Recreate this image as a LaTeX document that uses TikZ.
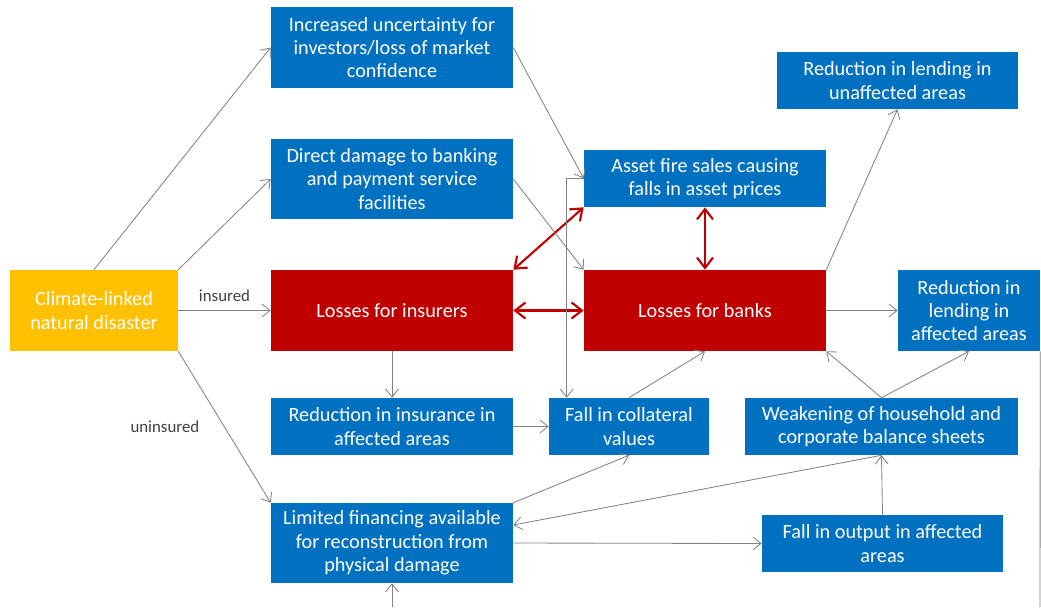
\documentclass[tikz,border=0pt]{standalone}
\usepackage{fontspec}
\setmainfont{Carlito}
\usepackage{tikz}
\usetikzlibrary{arrows.meta, positioning, calc}
\definecolor{boxblue}{RGB}{0,112,192}
\definecolor{boxred}{RGB}{192,0,0}
\definecolor{boxgold}{RGB}{255,192,0}
\definecolor{linegrey}{RGB}{130,130,130}
\definecolor{labelgrey}{RGB}{64,64,64}
\tikzset{
  box/.style={rectangle, text=white, align=center, inner sep=0pt,
    font=\fontsize{14.4}{16.6}\selectfont},
  bluebox/.style={box, fill=boxblue},
  redbox/.style={box, fill=boxred},
  goldbox/.style={box, fill=boxgold},
  arrow/.style={-{Straight Barb[length=2mm,width=3.2mm]}, line width=0.6pt, color=linegrey},
  line/.style={line width=0.6pt, color=linegrey},
  redarrow/.style={{Straight Barb[length=2.6mm,width=4mm]}-{Straight Barb[length=2.6mm,width=4mm]},
    line width=1.5pt, color=boxred},
  lbl/.style={font=\fontsize{12}{14}\selectfont, text=labelgrey}
}

\begin{document}
\begin{tikzpicture}[x=0.025cm, y=-0.025cm]
  \useasboundingbox (0,0) rectangle (1041,607);

  % source and first column
  \node[goldbox, minimum width=4.2cm, minimum height=2.025cm] (disaster) at (94,310.5) {Climate-linked\\natural disaster};
  \node[bluebox, minimum width=6.05cm, minimum height=2.025cm] (uncert) at (392,47.5) {Increased uncertainty for\\investors/loss of market\\confidence};
  \node[bluebox, minimum width=6.05cm, minimum height=2cm] (damage) at (392,179) {Direct damage to banking\\and payment service\\facilities};
  \node[redbox, minimum width=6.05cm, minimum height=2.025cm] (insurers) at (392,310.5) {Losses for insurers};
  \node[bluebox, minimum width=6.05cm, minimum height=1.425cm] (redins) at (392,426.5) {Reduction in insurance in\\affected areas};
  \node[bluebox, minimum width=6.05cm, minimum height=2cm] (limfin) at (392,543) {Limited financing available\\for reconstruction from\\physical damage};

  % banking side
  \node[bluebox, minimum width=6.05cm, minimum height=1.425cm] (firesale) at (705,178.5) {Asset fire sales causing\\falls in asset prices};
  \node[redbox, minimum width=6.05cm, minimum height=2.025cm] (banks) at (705,310.5) {Losses for banks};
  \node[bluebox, minimum width=4cm, minimum height=1.425cm] (collat) at (629,426.5) {Fall in collateral\\values};
  \node[bluebox, minimum width=6.825cm, minimum height=1.425cm] (weaken) at (881.5,426.5) {Weakening of household and\\corporate balance sheets};
  \node[bluebox, minimum width=6.025cm, minimum height=1.425cm] (output) at (882.5,543.5) {Fall in output in affected\\areas};
  \node[bluebox, minimum width=6.025cm, minimum height=1.425cm] (lendun) at (897.5,80.5) {Reduction in lending in\\unaffected areas};
  \node[bluebox, minimum width=3.55cm, minimum height=2.025cm] (lendaff) at (969,310.5) {Reduction in\\lending in\\affected areas};

  % loose ends of the feedback loop
  \coordinate (loopout) at (1040,607);
  \coordinate (loopin) at (392,607);

  % first-round effects
  \draw[arrow] (disaster.north) -- (uncert.west);
  \draw[arrow] (disaster.north east) -- (damage.west);
  \draw[arrow] (disaster.east) -- node[lbl, above=0.1cm] {insured} (insurers.west);
  \draw[arrow] (disaster.south east) -- node[lbl, left=0.5cm] {uninsured} (limfin.north west);

  % insurers and banks
  \draw[redarrow] (insurers.east) -- (banks.west);
  \draw[redarrow] (insurers.north east) -- (firesale.south west);
  \draw[redarrow] (firesale.south) -- (banks.north);

  \draw[arrow] (uncert.east) -- (firesale.west);
  \draw[arrow] (damage.east) -- (banks.north west);
  \draw[arrow] (firesale.west) -| ([xshift=0.45cm]collat.north west);
  \draw[arrow] (insurers.south) -- (redins.north);
  \draw[arrow] (redins.east) -- (collat.west);
  \draw[arrow] (collat.north) -- (banks.south);
  \draw[arrow] (limfin.north east) -- (collat.south);

  % real economy
  \draw[arrow] (weaken.south) -- ([yshift=0.45cm]limfin.east);
  \draw[arrow] (limfin.east) -- (output.west);
  \draw[arrow] (output.north) -- (weaken.south);
  \draw[arrow] (weaken.north) -- (banks.south east);
  \draw[arrow] (weaken.north) -- (lendaff.south);

  % lending
  \draw[arrow] (banks.east) -- (lendaff.west);
  \draw[arrow] (banks.north east) -- (lendun.south);
  \draw[line] (lendaff.south east) -- (loopout);
  \draw[arrow] (loopin) -- (limfin.south);
\end{tikzpicture}
\end{document}
